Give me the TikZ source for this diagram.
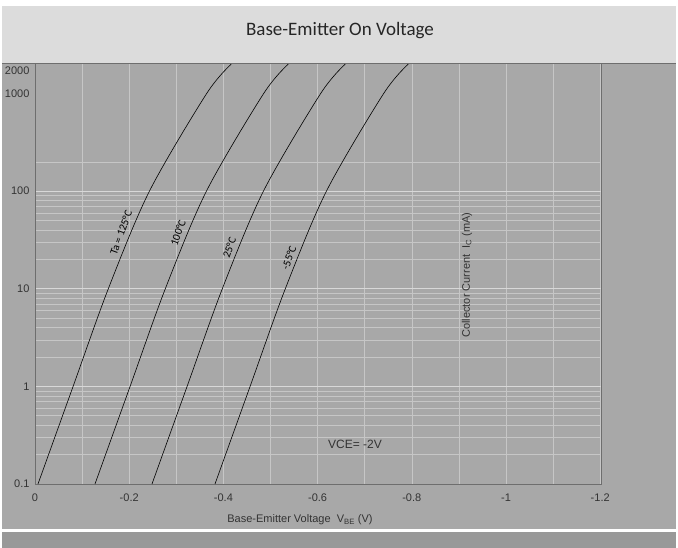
\documentclass[tikz,border=0pt]{standalone}
\usepackage{fontspec}
\setmainfont{Carlito}
\newfontfamily\tickfont{Liberation Sans}
\definecolor{banner}{HTML}{DCDCDC}
\definecolor{bodyc}{HTML}{A8A8A8}
\definecolor{gridc}{HTML}{C6C6C6}
\definecolor{gridmaj}{HTML}{D8D8D8}
\definecolor{footc}{HTML}{999999}
\definecolor{axisc}{HTML}{6E6E6E}
\begin{document}
\begin{tikzpicture}[x=1pt,y=-1pt,
  ticklab/.style={font=\tickfont\fontsize{11}{13}\selectfont, text=black!80},
  curvelab/.style={font=\fontsize{11}{13}\selectfont, rotate=70, anchor=south, inner sep=3pt},
  curve/.style={black, line width=0.6pt},
  gridline/.style={gridc, line width=0.6pt},
  majline/.style={gridmaj, line width=1pt}]
\useasboundingbox (0,0) rectangle (678,548);
\fill[white] (0,0) rectangle (678,548);
\fill[banner] (2,6) rectangle (676,64);
\fill[bodyc] (2,64) rectangle (676,529);
\fill[white] (2,529) rectangle (676,532);
\fill[footc] (2,532) rectangle (676,548);
% grid
\foreach \k in {1,...,12} \draw[gridline] ({35+47.1*\k},64) -- ({35+47.1*\k},484);
\foreach \d in {0,1,2} {
  \foreach \m in {2,...,9} \draw[gridline] (35,{484-97.6*(\d+log10(\m))}) -- (601,{484-97.6*(\d+log10(\m))});
}
\draw[gridline] (35,{484-97.6*(3+log10(2))}) -- (601,{484-97.6*(3+log10(2))});
\foreach \d in {1,2,3} \draw[majline] (35,{484-97.6*\d}) -- (601,{484-97.6*\d});
% frame
\draw[axisc, line width=1pt] (2,64) -- (676,64);
\draw[axisc, line width=0.8pt] (35,64) -- (35,484) -- (601,484) -- (601,64);
% tick labels
\node[ticklab, anchor=east] (y01) at (33,484) {0.1};
\node[ticklab, anchor=east] (y1) at (33,386.4) {1};
\node[ticklab, anchor=east] (y10) at (33,288.8) {10};
\node[ticklab, anchor=east] (y100) at (33,191.2) {100};
\node[ticklab, anchor=east] (y1000) at (33,93.6) {1000};
\node[ticklab, anchor=east] (y2000) at (33,71) {2000};
\node[ticklab] (x0) at (35,498) {0};
\node[ticklab] (x1) at (129.2,498) {-0.2};
\node[ticklab] (x2) at (223.4,498) {-0.4};
\node[ticklab] (x3) at (317.6,498) {-0.6};
\node[ticklab] (x4) at (411.8,498) {-0.8};
\node[ticklab] (x5) at (506,498) {-1};
\node[ticklab] (x6) at (600.2,498) {-1.2};
% curves
\draw[curve] plot[smooth] coordinates {(38,484) (73.1,386.4) (108.3,288.8) (149.4,191.2) (206.6,93.6) (231.2,64.2)};
\draw[curve] plot[smooth] coordinates {(95,484) (130.1,386.4) (165.3,288.8) (206.4,191.2) (263.6,93.6) (288.2,64.2)};
\draw[curve] plot[smooth] coordinates {(152,484) (187.1,386.4) (222.3,288.8) (263.4,191.2) (320.6,93.6) (345.2,64.2)};
\draw[curve] plot[smooth] coordinates {(215,484) (250.1,386.4) (285.3,288.8) (326.4,191.2) (383.6,93.6) (408.2,64.2)};
\node[curvelab] (t125) at (127.6,235) {Ta = 125°C};
\node[curvelab] (t100) at (184.6,235) {100°C};
\node[curvelab] (t25) at (236,250) {25°C};
\node[curvelab] (t55) at (295.6,260) {-55°C};
% texts
\node[font=\fontsize{19}{22}\selectfont, text=black!85] (title) at (340,31) {Base-Emitter On Voltage};
\node[font=\tickfont\fontsize{12}{14}\selectfont, text=black!80] (vce) at (355,444) {VCE= -2V};
\node[font=\tickfont\fontsize{11}{13}\selectfont, text=black!80, rotate=90] (ylab) at (467,275) {Collector Current\ \ I\textsubscript{C} (mA)};
\node[font=\tickfont\fontsize{11}{13}\selectfont, text=black!80] (xlab) at (300,520) {Base-Emitter Voltage\ \ V\textsubscript{BE} (V)};
\end{tikzpicture}
\end{document}
